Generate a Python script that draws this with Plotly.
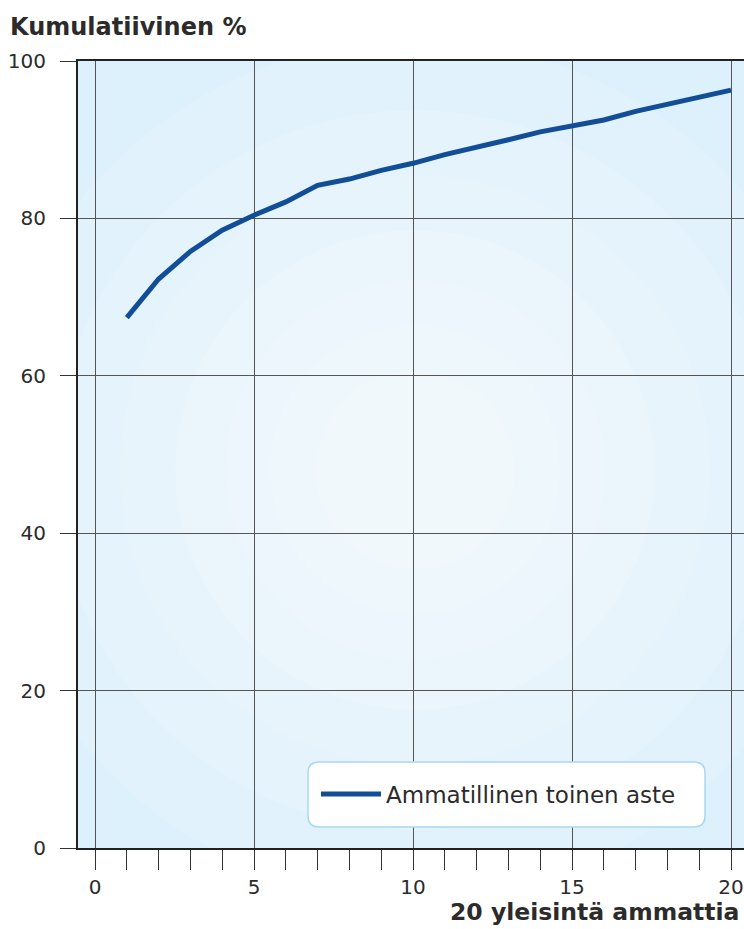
""" Cumulative share of the 20 most common occupations """

import plotly.graph_objects as go

# data
occupation_rank = list(range(1, 21))
cumulative_pct = [
    67.4, 72.3, 75.8, 78.5, 80.4, 82.1, 84.2, 85.0, 86.1, 87.0,
    88.1, 89.0, 90.0, 91.0, 91.8, 92.5, 93.6, 94.5, 95.3, 96.3,
]
series_name = "Ammatillinen toinen aste"
x_tick_vals = [0, 5, 10, 15, 20]
y_tick_vals = [0, 20, 40, 60, 80, 100]

FONT = "DejaVu Sans"
TEXT = "#2b2b2b"
LINE = "#124e98"
GRID = "#555555"

W, H = 744, 929
L, R, T, B = 78, 0, 61, 81
PW, PH = W - L - R, H - T - B


def px_to_paper(px, py):
    """pixel position in the page -> paper coords"""
    return (px - L) / PW, (H - B - py) / PH


def radial_glow():
    """stack of soft white discs to fake the radial background"""
    cx, cy = px_to_paper(415, 470)
    shapes = []
    for r in [430, 360, 295, 240, 190, 145, 100, 60]:
        rx, ry = r / PW, r / PH
        shapes.append(dict(
            type="circle", xref="paper", yref="paper", layer="below",
            x0=cx - rx, x1=cx + rx, y0=cy - ry, y1=cy + ry,
            fillcolor="white", opacity=0.12, line=dict(width=0),
        ))
    return shapes


def legend_box():
    """rounded white box behind the legend"""
    x0, y1 = px_to_paper(308, 762)
    x1, y0 = px_to_paper(705, 827)
    rx, ry = 11 / PW, 11 / PH
    path = (
        f"M {x0 + rx},{y0} L {x1 - rx},{y0} Q {x1},{y0} {x1},{y0 + ry} "
        f"L {x1},{y1 - ry} Q {x1},{y1} {x1 - rx},{y1} "
        f"L {x0 + rx},{y1} Q {x0},{y1} {x0},{y1 - ry} "
        f"L {x0},{y0 + ry} Q {x0},{y0} {x0 + rx},{y0} Z"
    )
    return dict(
        type="path", path=path, xref="paper", yref="paper", layer="above",
        fillcolor="white", line=dict(color="#a9d8f0", width=1.5),
    )


fig = go.Figure(
    go.Scatter(
        x=occupation_rank,
        y=cumulative_pct,
        mode="lines",
        name=series_name,
        line=dict(color=LINE, width=5),
        showlegend=True,
    )
)

lx, ly = px_to_paper(316, 794)
fig.update_layout(
    width=W,
    height=H,
    margin=dict(l=L, r=R, t=T, b=B),
    paper_bgcolor="white",
    plot_bgcolor="#ddf1fc",
    font=dict(family=FONT, size=20, color=TEXT),
    title=dict(
        text="<b>Kumulatiivinen %</b>",
        x=10 / W, xanchor="left", xref="container",
        y=1 - 27 / H, yanchor="middle",
        font=dict(family=FONT, size=24, color=TEXT),
    ),
    showlegend=True,
    legend=dict(
        x=lx, y=ly, xanchor="left", yanchor="middle",
        bgcolor="rgba(0,0,0,0)", borderwidth=0,
        font=dict(family=FONT, size=23, color=TEXT),
        itemwidth=60,
    ),
    shapes=radial_glow() + [legend_box()],
    annotations=[
        dict(
            text="<b>20 yleisintä ammattia</b>",
            xref="paper", yref="paper", x=1, y=-(912 - (H - B)) / PH,
            xanchor="right", yanchor="middle", xshift=-3, showarrow=False,
            font=dict(family=FONT, size=23.5, color=TEXT),
        )
    ],
)

fig.update_xaxes(
    range=[(L - 95) / 31.8, (W - 95) / 31.8],
    tickvals=x_tick_vals,
    ticks="outside", ticklen=20, tickcolor="#333", tickwidth=1,
    minor=dict(dtick=1, tick0=0, ticks="outside", ticklen=20, tickcolor="#333", showgrid=False),
    showgrid=True, gridcolor=GRID, gridwidth=1,
    showline=True, linecolor="#222", linewidth=2, mirror=True,
    zeroline=False,
    tickfont=dict(family=FONT, size=20, color=TEXT),
)
fig.update_yaxes(
    range=[0, 100],
    tickvals=y_tick_vals,
    ticks="outside", ticklen=16, tickcolor="#333", tickwidth=1,
    ticklabelstandoff=10,
    showgrid=True, gridcolor=GRID, gridwidth=1,
    showline=True, linecolor="#222", linewidth=2,
    zeroline=False,
    tickfont=dict(family=FONT, size=20, color=TEXT),
)

# the page template keeps the browser's default body margin; drop it
fig.write_html(
    "out.html",
    config={"displayModeBar": False},
    post_script="document.body.style.margin='0';",
)
